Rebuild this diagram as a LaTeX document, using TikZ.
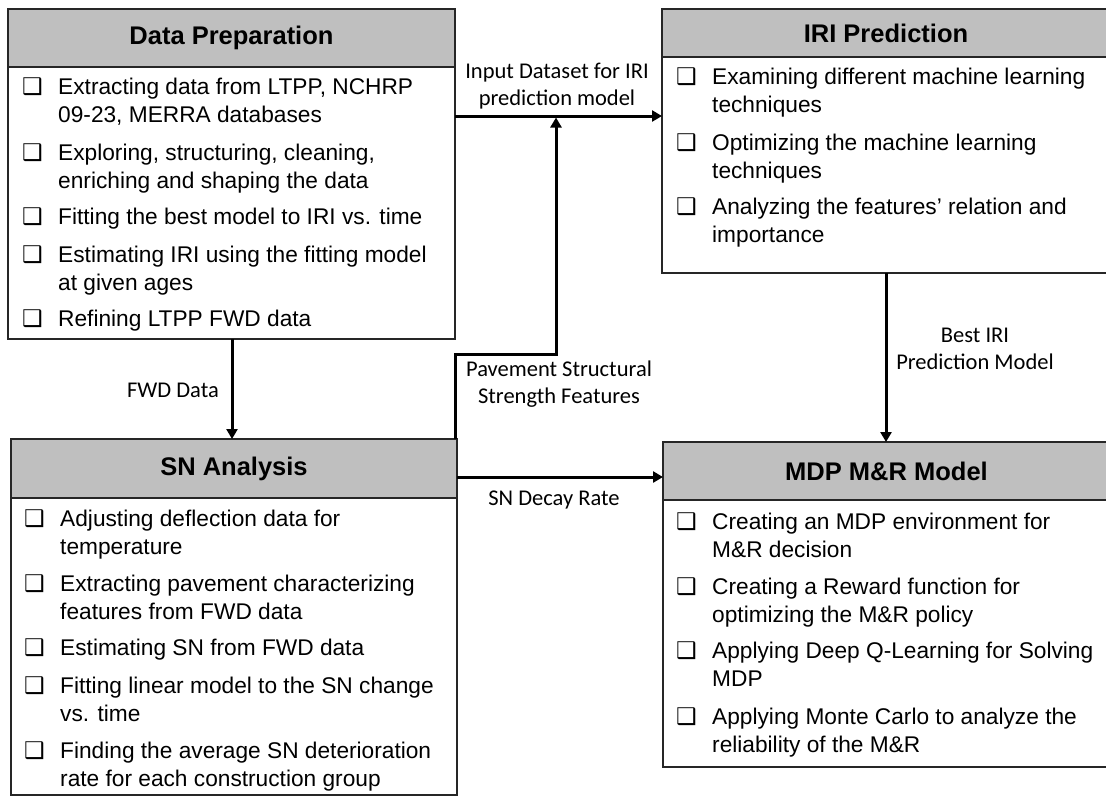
\documentclass[tikz,border=0pt]{standalone}
\usepackage{fontspec}
\setmainfont{Liberation Sans}
\newfontfamily\lblfamily{Carlito}
\newfontfamily\ckfamily{DejaVu Sans}
\usetikzlibrary{arrows.meta}
\definecolor{headgray}{HTML}{BFBFBF}
\definecolor{edgegray}{HTML}{262626}
\tikzset{
  boxbody/.style={draw=edgegray, line width=1.6pt, fill=white, inner sep=0pt, outer sep=0pt, anchor=north west},
  boxhead/.style={draw=edgegray, line width=1.6pt, fill=headgray, inner sep=0pt, outer sep=0pt, anchor=north west,
    font={\fontsize{25.5}{30}\selectfont\bfseries}},
  itm/.style={anchor=base west, align=left, inner sep=0pt, font={\fontsize{22.7}{27.5}\selectfont}},
  chk/.style={anchor=base west, inner sep=0pt, font={\ckfamily\fontsize{23}{25}\selectfont}},
  lbl/.style={anchor=base, align=center, inner sep=0pt, font={\lblfamily\fontsize{22.5}{27}\selectfont}},
  arr/.style={line width=3pt, -{Triangle[length=10pt,width=11pt]}},
}
% one-line item: name, x, baseline, text
\newcommand\bxitemA[4]{%
  \node[chk] (#1c) at ({#2-36},#3) {❑};
  \node[itm] (#1) at (#2,#3) {#4};}
% two-line item: name, x, first baseline, text (anchored at its last baseline)
\newcommand\bxitemB[4]{%
  \node[chk] (#1c) at ({#2-36},#3) {❑};
  \node[itm] (#1) at (#2,{#3+27.5}) {#4};}
\begin{document}
\begin{tikzpicture}[x=1pt,y=-1pt]
\useasboundingbox[fill=white] (0,0) rectangle (1106,796);

% Data Preparation
\node[boxbody, minimum width=447, minimum height=330] (dp) at (8,9) {};
\node[boxhead, minimum width=447, minimum height=58] (dph) at (8,9) {Data Preparation};
\bxitemB{dp1}{58}{94.5}{Extracting data from LTPP, NCHRP\\09-23, MERRA databases}
\bxitemB{dp2}{58}{160.5}{Exploring, structuring, cleaning,\\enriching and shaping the data}
\bxitemA{dp3}{58}{224.5}{Fitting the best model to IRI vs. time}
\bxitemB{dp4}{58}{262.5}{Estimating IRI using the fitting model\\at given ages}
\bxitemA{dp5}{58}{326.5}{Refining LTPP FWD data}

% IRI Prediction
\node[boxbody, minimum width=448, minimum height=264] (iri) at (662,9) {};
\node[boxhead, minimum width=448, minimum height=48] (irih) at (662,9) {IRI Prediction};
\bxitemB{ir1}{712}{84.5}{Examining different machine learning\\techniques}
\bxitemB{ir2}{712}{150.5}{Optimizing the machine learning\\techniques}
\bxitemB{ir3}{712}{214.5}{Analyzing the features’ relation and\\importance}

% SN Analysis
\node[boxbody, minimum width=446, minimum height=356] (sn) at (11,439) {};
\node[boxhead, minimum width=446, minimum height=59] (snh) at (11,439) {SN Analysis};
\bxitemB{sn1}{60}{526.5}{Adjusting deflection data for\\temperature}
\bxitemB{sn2}{60}{591.5}{Extracting pavement characterizing\\features from FWD data}
\bxitemA{sn3}{60}{655.5}{Estimating SN from FWD data}
\bxitemB{sn4}{60}{693.5}{Fitting linear model to the SN change\\vs. time}
\bxitemB{sn5}{60}{758.5}{Finding the average SN deterioration\\rate for each construction group}

% MDP M&R Model
\node[boxbody, minimum width=447, minimum height=325] (mdp) at (663,442) {};
\node[boxhead, minimum width=447, minimum height=58] (mdph) at (663,442) {MDP M\&R Model};
\bxitemB{md1}{712}{529.5}{Creating an MDP environment for\\M\&R decision}
\bxitemB{md2}{712}{594.5}{Creating a Reward function for\\optimizing the M\&R policy}
\bxitemB{md3}{712}{658.5}{Applying Deep Q-Learning for Solving\\MDP}
\bxitemB{md4}{712}{724.5}{Applying Monte Carlo to analyze the\\reliability of the M\&R}

% connectors
\coordinate (a1) at (0,116);
\coordinate (b1) at (0,477);
\coordinate (fx) at (232,0);
\coordinate (jn) at (556,117.5);
\draw[arr] (dp.east |- a1) -- (iri.west |- a1);
\draw[arr] ([xshift=-2pt]sn.north east) -- ++(0,-85) -| (jn);
\draw[arr] (dp.south -| fx) -- (sn.north -| fx);
\draw[arr] (sn.east |- b1) -- (mdp.west |- b1);
\draw[arr] (iri.south) -- (mdp.north -| iri.south);

% labels (anchored at the baseline of their last line)
\node[lbl] (l1) at (557,105) {Input Dataset for IRI\\prediction model};
\node[lbl] (l2) at (559,403) {Pavement Structural\\Strength Features};
\node[lbl] (l3) at (173,397) {FWD Data};
\node[lbl] (l4) at (554,505) {SN Decay Rate};
\node[lbl] (l5) at (975,369) {Best IRI\\Prediction Model};
\end{tikzpicture}
\end{document}
